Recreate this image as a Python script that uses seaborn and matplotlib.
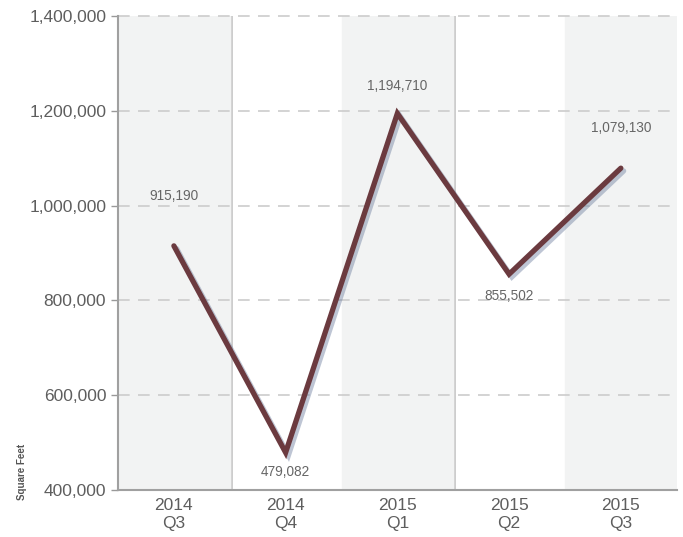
import matplotlib
matplotlib.use("Agg")
import matplotlib.pyplot as plt
import matplotlib.patheffects as pe
import seaborn as sns
import pandas as pd

# Data
quarters = ["2014\nQ3", "2014\nQ4", "2015\nQ1", "2015\nQ2", "2015\nQ3"]
square_feet = [915190, 479082, 1194710, 855502, 1079130]
y_ticks = [400000, 600000, 800000, 1000000, 1200000, 1400000]

# vertical offset (points) of each value label from its point
label_offset = [36, -14, 20, -16, 29]

df = pd.DataFrame({"quarter": quarters, "sqft": square_feet, "pos": range(len(quarters))})

sns.set_style("white")
plt.rcParams["font.family"] = ["Liberation Sans", "DejaVu Sans"]

fig = plt.figure(figsize=(6.83, 5.37), dpi=100)
ax = fig.add_axes([0.1728, 0.0875, 0.818, 0.8825])

# alternating background bands with a little shadow on the right edge
for i in range(0, len(quarters), 2):
    ax.axvspan(i - 0.5, i + 0.5, color="#f2f3f3", zorder=0,
               path_effects=[pe.SimplePatchShadow(offset=(2, 0), shadow_rgbFace="#b8b8b8", alpha=0.7), pe.Normal()])

for t in y_ticks[1:]:
    ax.axhline(t, color="#cccccc", lw=1.2, ls=(0, (7, 5)), zorder=1, clip_on=False)

sns.lineplot(data=df, x="pos", y="sqft", ax=ax, color="#6b3a3f", lw=3.8, zorder=3,
             solid_capstyle="round", solid_joinstyle="miter",
             path_effects=[pe.SimpleLineShadow(offset=(2, -2), shadow_color="#7080a0", alpha=0.45),
                           pe.Normal()])

for p, v, dy in zip(df["pos"], square_feet, label_offset):
    ax.annotate(f"{v:,}", (p, v), xytext=(0, dy), textcoords="offset points",
                ha="center", va="center", fontsize=9.8, color="#666666")

ax.set_xlim(-0.5, len(quarters) - 0.5)
ax.set_ylim(400000, 1400000)
ax.set_xticks(range(len(quarters)))
ax.set_xticklabels(quarters)
ax.set_yticks(y_ticks)
ax.set_yticklabels([f"{t:,}" for t in y_ticks])
ax.tick_params(axis="both", labelsize=12.5, labelcolor="#5e5e5e", colors="#999999")
ax.tick_params(axis="y", length=5, width=1, direction="out", left=True)
ax.tick_params(axis="x", length=0, pad=6)
ax.set_xlabel("")
ax.set_ylabel("Square Feet", fontsize=7, fontweight="bold", color="#555555")
ax.yaxis.set_label_coords(-0.163, 0.038)

for s in ["top", "right"]:
    ax.spines[s].set_visible(False)
for s in ["left", "bottom"]:
    ax.spines[s].set_color("#a0a0a0")
    ax.spines[s].set_linewidth(1.5)

fig.savefig("out.png", dpi=100)
